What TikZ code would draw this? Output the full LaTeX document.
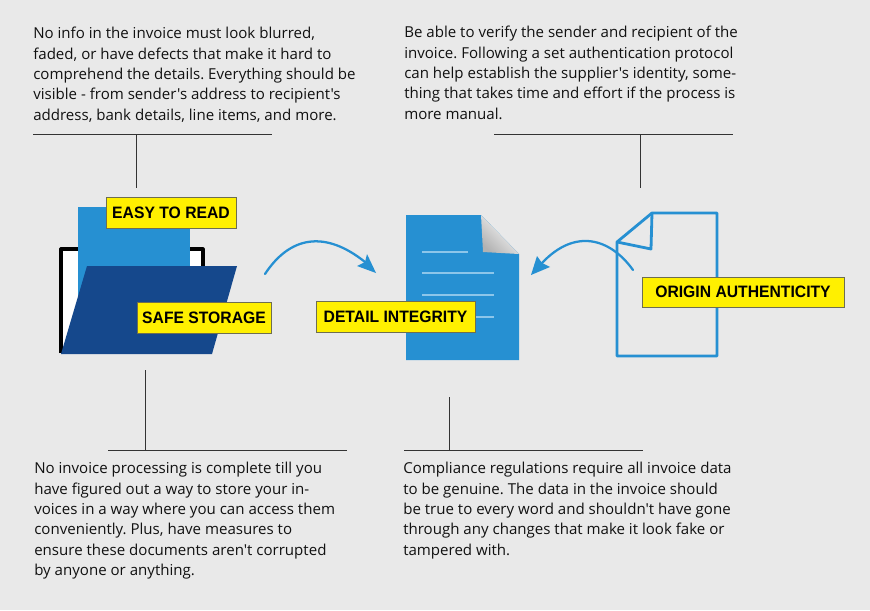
\documentclass[tikz,border=0pt]{standalone}
\usepackage{fontspec}
\newfontfamily\bodyfont{Open Sans}
\newfontfamily\labelfont[FakeStretch=0.95]{Liberation Sans}
\usetikzlibrary{calc}
\definecolor{bgc}{HTML}{E9E9E9}
\definecolor{midblue}{HTML}{2690D2}
\definecolor{darkblue}{HTML}{15488C}
\definecolor{tagyellow}{HTML}{FFF000}
\definecolor{tagedge}{HTML}{6E6E50}
\definecolor{inkc}{HTML}{111111}
\definecolor{rulec}{HTML}{333333}
\definecolor{paleline}{HTML}{8CC6EA}
\tikzset{
  tag/.style={draw=tagedge,line width=0.6pt,fill=tagyellow,inner sep=0pt,anchor=center,
    font=\labelfont\bfseries\fontsize{12.4}{15}\selectfont,text=black},
  para/.style={anchor=north west,inner sep=0pt,align=left,text=inkc,
    font=\bodyfont\frenchspacing\fontsize{11.3}{15.25}\selectfont},
  rulestyle/.style={draw=rulec,line width=0.75pt},
  swoop/.style={draw=midblue,line width=1.7pt,line cap=round},
  headfill/.style={fill=midblue,draw=none},
  docline/.style={draw=paleline,line width=0.8pt}
}
\begin{document}
\begin{tikzpicture}[x=0.75pt,y=-0.75pt]
\useasboundingbox (0,0) rectangle (870,610);
\fill[bgc] (0,0) rectangle (870,610);

% text blocks
\node[para] (t1) at (33,27) {No info in the invoice must look blurred,\\faded, or have defects that make it hard to\\comprehend the details. Everything should be\\visible - from sender's address to recipient's\\address, bank details, line items, and more.};
\node[para] (t2) at (404,26) {Be able to verify the sender and recipient of the\\invoice. Following a set authentication protocol\\can help establish the supplier's identity, some-\\thing that takes time and effort if the process is\\more manual.};
\node[para] (t3) at (34,462) {No invoice processing is complete till you\\have figured out a way to store your in-\\voices in a way where you can access them\\conveniently. Plus, have measures to\\ensure these documents aren't corrupted\\by anyone or anything.};
\node[para] (t4) at (403,462) {Compliance regulations require all invoice data\\to be genuine. The data in the invoice should\\be true to every word and shouldn't have gone\\through any changes that make it look fake or\\tampered with.};

% rules
\coordinate (r1a) at (33,134); \coordinate (r1b) at (272,134); \coordinate (r1c) at (136,134); \coordinate (r1d) at (136,188);
\coordinate (r2a) at (494,134); \coordinate (r2b) at (733,134); \coordinate (r2c) at (640,134); \coordinate (r2d) at (640,188);
\coordinate (r3a) at (108,450); \coordinate (r3b) at (347,450); \coordinate (r3c) at (145,450); \coordinate (r3d) at (145,370);
\coordinate (r4a) at (404,450); \coordinate (r4b) at (643,450); \coordinate (r4c) at (449,450); \coordinate (r4d) at (449,397);
\draw[rulestyle] (r1a) -- (r1b) (r1c) -- (r1d);
\draw[rulestyle] (r2a) -- (r2b) (r2c) -- (r2d);
\draw[rulestyle] (r3a) -- (r3b) (r3c) -- (r3d);
\draw[rulestyle] (r4a) -- (r4b) (r4c) -- (r4d);

% folder
\draw[fill=white,draw=black,line width=2.4pt,line join=round] (61,353) -- (61,249) -- (203,249) -- (203,300);
\fill[midblue] (78,207) rectangle (190,300);
\fill[darkblue] (87,266) -- (237,266) -- (212,354) -- (61,354) -- cycle;

% filled document
\fill[midblue] (406,215) -- (481,215) -- (519,254) -- (519,360) -- (406,360) -- cycle;
\shade[left color=white,right color=black!30,shading angle=-45] (481,215) -- (519,254) -- (483,252) -- cycle;
\draw[docline] (422,252) -- (468,252);
\draw[docline] (422,273) -- (494,273);
\draw[docline] (422,295) -- (494,295);
\draw[docline] (422,317) -- (494,317);

% outlined document
\draw[draw=midblue,line width=2.1pt,line join=round] (652,213) -- (717,213) -- (717,356) -- (617,356) -- (617,242) -- cycle;
\draw[draw=midblue,line width=2.1pt,line join=round] (617,242) -- (651,249) -- (652,213);

% arrows
\coordinate (a1s) at (265,274); \coordinate (a1e) at (365,262);
\coordinate (a2s) at (633,270); \coordinate (a2e) at (542,263);
\draw[swoop] (a1s) .. controls (290,236) and (325,230) .. (a1e);
\fill[headfill] (376,273) -- (367,254) -- (365,262) -- (357,266) -- cycle;
\draw[swoop] (a2s) .. controls (610,238) and (575,228) .. (a2e);
\fill[headfill] (531,275) -- (537,256) -- (542,263) -- (550,267) -- cycle;

% tags
\node[tag,minimum width=130pt*0.75,minimum height=31pt*0.75] (easy) at (171,212.5) {EASY TO READ};
\node[tag,minimum width=134pt*0.75,minimum height=31pt*0.75] (safe) at (204,317.5) {SAFE STORAGE};
\node[tag,minimum width=159pt*0.75,minimum height=31pt*0.75] (detail) at (395.5,316.5) {DETAIL INTEGRITY};
\node[tag,minimum width=202pt*0.75,minimum height=30pt*0.75] (origin) at (743,292) {ORIGIN AUTHENTICITY};
\end{tikzpicture}
\end{document}
